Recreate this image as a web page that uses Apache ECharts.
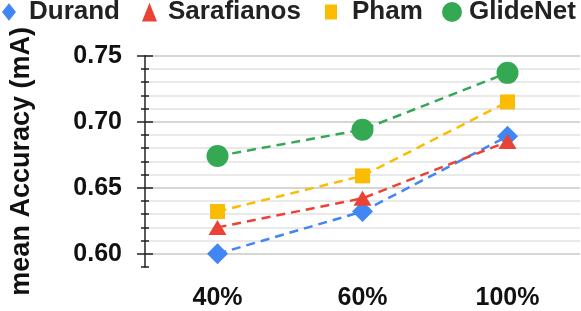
<!DOCTYPE html>
<html>
<head>
<meta charset="utf-8">
<script src="https://cdn.jsdelivr.net/npm/echarts@6/dist/echarts.min.js"></script>
<style>
html,body{margin:0;padding:0;background:#fff;}
#chart{width:581px;height:311px;}
</style>
</head>
<body>
<div id="chart"></div>
<script>
// ---- data ----
var categories = ['40%', '60%', '100%'];
var seriesNames = ['Durand', 'Sarafianos', 'Pham', 'GlideNet'];
var durand = [0.600, 0.632, 0.689];
var sarafianos = [0.620, 0.642, 0.685];
var pham = [0.632, 0.659, 0.715];
var glidenet = [0.674, 0.694, 0.737];
var yTickLabels = [0.60, 0.65, 0.70, 0.75];
var yAxisTitle = 'mean Accuracy (mA)';

// ---- styles ----
var FONT = 'Liberation Sans, Arial, sans-serif';
var colors = ['#4285F4', '#EA4335', '#FBBC04', '#34A853'];
var symbols = ['diamond', 'triangle', 'rect', 'circle'];
var symbolSizes = [21, [18, 15], 15, 22];
var values = [durand, sarafianos, pham, glidenet];

var legendIconSize = [14, 15, 12, 20];
var legendLeft = [2, 142, 325, 442];
var legendTextX = [29, 168, 352, 469];
var legendLineH = 26;
var legendCenterY = 12;

var legends = seriesNames.map(function (name, i) {
  var s = legendIconSize[i];
  var h = s / 0.8;
  return {
    data: [{ name: name, icon: symbols[i] }],
    left: legendLeft[i],
    top: legendCenterY - Math.max(h, legendLineH) / 2,
    padding: 0,
    itemWidth: s,
    itemHeight: h,
    lineStyle: { opacity: 0 },
    selectedMode: false,
    textStyle: {
      fontFamily: FONT, fontSize: 26, fontWeight: 'bold', color: '#222',
      lineHeight: legendLineH,
      padding: [0, 0, 0, legendTextX[i] - legendLeft[i] - s - 5]
    }
  };
});

var axisColor = '#222';
var yMin = 0.59, yMax = 0.75;
function baseY(extra) {
  var o = {
    type: 'value', min: yMin, max: yMax, interval: 0.01, position: 'left', offset: 0,
    axisLine: { show: false },
    axisTick: { show: false },
    axisLabel: { show: false },
    splitLine: { show: false }
  };
  for (var k in extra) o[k] = extra[k];
  return o;
}

var option = {
  animation: false,
  backgroundColor: '#fff',
  legend: legends,
  grid: { left: 143, right: 1, top: 55.7, bottom: 43.3 },
  xAxis: {
    type: 'category', data: categories, boundaryGap: true,
    axisLine: { show: false }, axisTick: { show: false }, splitLine: { show: false },
    axisLabel: { fontFamily: FONT, fontSize: 25, fontWeight: 'bold', color: '#111', margin: 19 }
  },
  yAxis: [
    baseY({
      axisLine: { show: true, lineStyle: { color: axisColor, width: 1.5 } },
      axisTick: { show: true, length: 4, lineStyle: { color: axisColor, width: 1.5 } },
      axisLabel: {
        show: true, customValues: yTickLabels,
        formatter: function (v) { return Number(v).toFixed(2); },
        fontFamily: FONT, fontSize: 25, fontWeight: 'bold', color: '#111', margin: 23
      },
      splitLine: { show: true, showMinLine: false,
        lineStyle: { color: ['#c8c8c8', '#e2e2e2', '#e2e2e2', '#e2e2e2', '#e2e2e2'], width: 1.5 } },
      name: yAxisTitle, nameLocation: 'middle', nameGap: 110,
      nameTextStyle: { fontFamily: FONT, fontSize: 27, fontWeight: 'bold', color: '#111' }
    }),
    baseY({
      axisTick: { show: true, inside: true, length: 4, lineStyle: { color: axisColor, width: 1.5 } }
    }),
    baseY({
      axisTick: { show: true, length: 8, customValues: yTickLabels, lineStyle: { color: axisColor, width: 1.5 } }
    }),
    baseY({
      axisTick: { show: true, inside: true, length: 8, customValues: yTickLabels, lineStyle: { color: axisColor, width: 1.5 } }
    })
  ],
  series: seriesNames.map(function (name, i) {
    return {
      name: name, type: 'line', yAxisIndex: 0, data: values[i],
      symbol: symbols[i], symbolSize: symbolSizes[i],
      itemStyle: { color: colors[i] },
      lineStyle: { color: colors[i], width: 2.5, type: [9, 6] },
      z: 2 + i
    };
  })
};

var chart = echarts.init(document.getElementById('chart'), null, { renderer: 'canvas' });
chart.setOption(option);
</script>
</body>
</html>
